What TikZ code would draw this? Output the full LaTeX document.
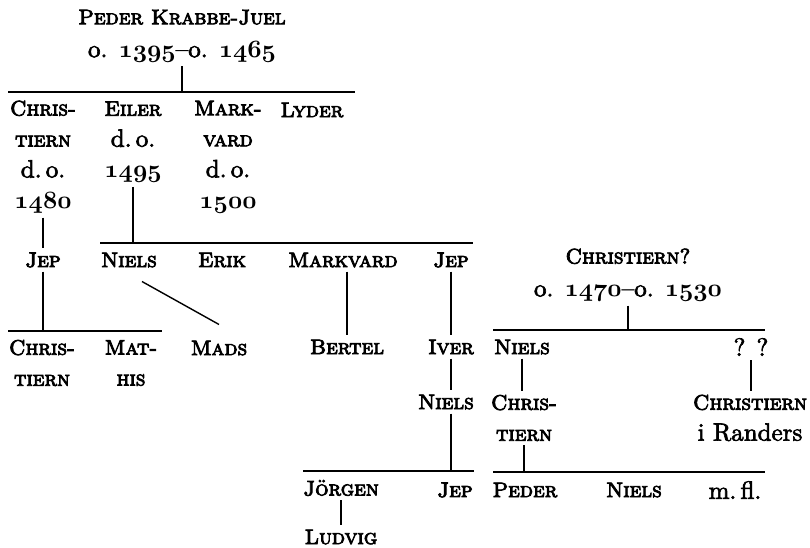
\documentclass[tikz,border=0pt]{standalone}
\font\whofont="[lmromancaps10-regular]:mapping=tex-text;embolden=4" at 21pt
\font\txtfont="[lmroman10-regular]:mapping=tex-text;embolden=2.5" at 25pt
\newcommand\yr[1]{{\fontsize{23}{31}\usefont{OML}{cmm}{b}{it}#1}}
\newcommand\who[1]{{\whofont #1}}
\begin{document}
\begin{tikzpicture}[x=1pt,y=-1pt,
    every node/.style={font=\fontsize{25}{31}\selectfont\txtfont, align=center, inner sep=4pt},
    rule/.style={line width=1.8pt},
    tick/.style={line width=1.4pt}]
    \useasboundingbox (0,0) rectangle (810,548);
    % Peder Krabbe-Juel and his sons
    \node (v1) at (182,36) {\who{Peder Krabbe-Juel}\\[2pt]o. \yr{1395}--o. \yr{1465}};
    \coordinate (l1) at (8,92);
    \coordinate (r1) at (355,92);
    \node (v2) at (43,157) {\who{Chris-}\\\who{tiern}\\d.\,o.\\\yr{1480}};
    \node (v3) at (133,142) {\who{Eiler}\\d.\,o.\\\yr{1495}};
    \node (v4) at (228,157) {\who{Mark-}\\\who{vard}\\d.\,o.\\\yr{1500}};
    \node (v5) at (312,110) {\who{Lyder}};
    \draw[rule] (l1) -- (r1);
    \draw[tick] (v1.south) -- (v1.south |- l1);
    % next generation
    \coordinate (l2) at (100,243);
    \coordinate (r2) at (473,243);
    \node (v6) at (43,260) {\who{Jep}};
    \node (v7) at (129,260) {\who{Niels}};
    \node (v8) at (222,260) {\who{Erik}};
    \node (v9) at (343,260) {\who{Markvard}};
    \node (v10) at (451,260) {\who{Jep}};
    \draw[rule] (l2) -- (r2);
    \draw[tick] (v3.south) -- (v3.south |- l2);
    \draw[tick] (v2) -- (v6);
    \coordinate (l3) at (8,331);
    \coordinate (r3) at (162,331);
    \node (v11) at (42,363) {\who{Chris-}\\\who{tiern}};
    \node (v12) at (131,363) {\who{Mat-}\\\who{his}};
    \node (v13) at (219,348) {\who{Mads}};
    \node (v14) at (347,347) {\who{Bertel}};
    \node (v15) at (451,347) {\who{Iver}};
    \node (v16) at (446,402) {\who{Niels}};
    \draw[rule] (l3) -- (r3);
    \draw[tick] (v6) -- (v6 |- l3);
    \draw[tick] ([xshift=13pt,yshift=-10pt]v7.south) -- ([yshift=12pt]v13.north);
    \draw[tick] (v9.south -| v14) -- (v14.north);
    \draw[tick] (v10) -- (v15);
    \draw[tick] (v15.south) -- (v15.south |- v16.north);
    \coordinate (l4) at (303,471);
    \coordinate (r4) at (474,471);
    \node (v17) at (341,488) {\who{Jörgen}};
    \node (v18) at (455,490) {\who{Jep}};
    \node (v19) at (341,537) {\who{Ludvig}};
    \draw[rule] (l4) -- (r4);
    \draw[tick] (v16.south -| v15) -- (v15 |- l4);
    \draw[tick] (v17) -- (v19);
    % Christiern? and his line
    \node (v20) at (628,275) {\who{Christiern?}\\[2pt]o. \yr{1470}--o. \yr{1530}};
    \coordinate (l5) at (493,330);
    \coordinate (r5) at (765,330);
    \node (v21) at (522,347) {\who{Niels}};
    \node (v22) at (751,347) {? ?};
    \node (v23) at (524,418) {\who{Chris-}\\\who{tiern}};
    \node (v24) at (750,418) {\who{Christiern}\\i Randers};
    \draw[rule] (l5) -- (r5);
    \draw[tick] (v20.south) -- (v20.south |- l5);
    \draw[tick] (v21) -- (v21 |- v23.north);
    \draw[tick] (v22) -- (v22 |- v24.north);
    \coordinate (l6) at (493,472);
    \coordinate (r6) at (765,472);
    \node (v25) at (525,490) {\who{Peder}};
    \node (v26) at (634,490) {\who{Niels}};
    \node (v27) at (735,490) {m.\,fl.};
    \draw[rule] (l6) -- (r6);
    \draw[tick] (v23.south) -- (v23.south |- l6);
\end{tikzpicture}
\end{document}
